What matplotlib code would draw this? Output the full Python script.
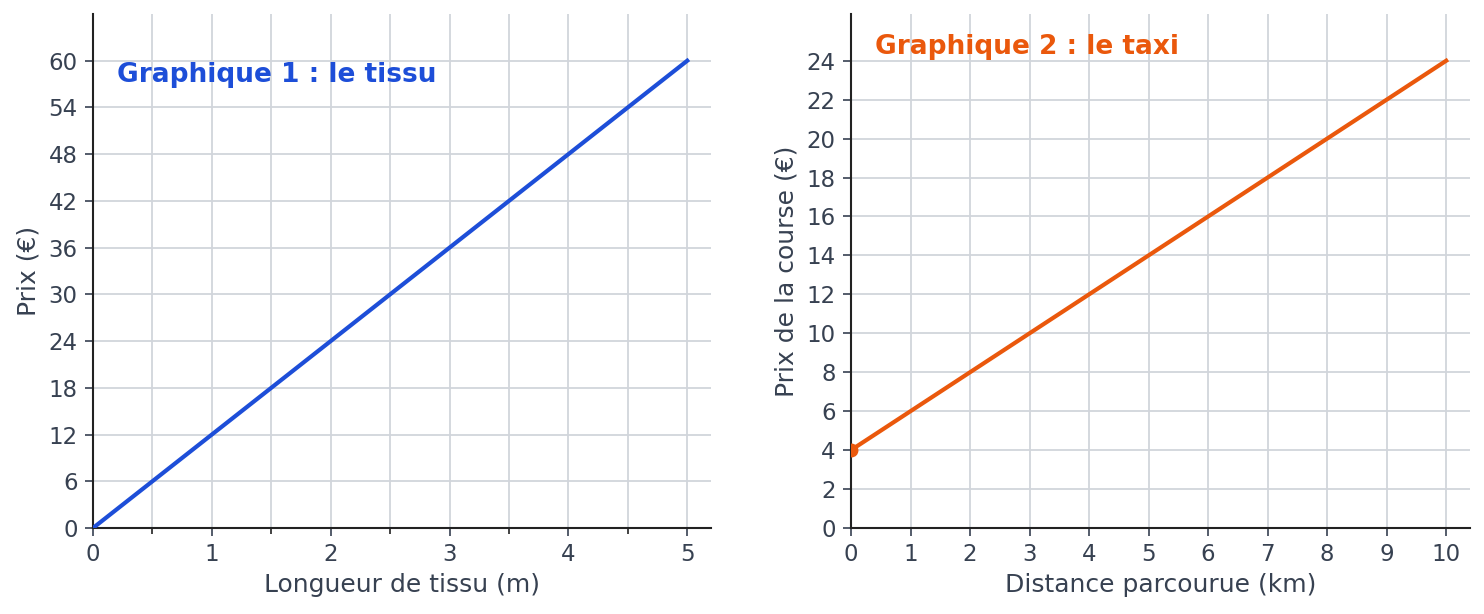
import matplotlib
matplotlib.use("Agg")
import matplotlib.pyplot as plt
from matplotlib.ticker import MultipleLocator, FixedLocator

# Graphique 1 : le tissu
tissu_x = [0, 5]
tissu_y = [0, 60]
tissu_yticks = [0, 6, 12, 18, 24, 30, 36, 42, 48, 54, 60]

# Graphique 2 : le taxi
taxi_x = [0, 10]
taxi_y = [4, 24]
taxi_yticks = [0, 2, 4, 6, 8, 10, 12, 14, 16, 18, 20, 22, 24]

TEXT = "#374151"
GRID = "#d1d5db"
BLUE = "#1d4ed8"
ORANGE = "#ea580c"

plt.rcParams["font.family"] = ["DejaVu Sans"]

fig = plt.figure(figsize=(14.84, 6.14), dpi=100)
ax1 = fig.add_axes([93 / 1484, 1 - 528 / 614, (711 - 93) / 1484, (528 - 14) / 614])
ax2 = fig.add_axes([851 / 1484, 1 - 528 / 614, (1470 - 851) / 1484, (528 - 14) / 614])


def style(ax):
    for s in ("top", "right"):
        ax.spines[s].set_visible(False)
    for s in ("left", "bottom"):
        ax.spines[s].set_color("#222222")
        ax.spines[s].set_linewidth(1.5)
    ax.tick_params(labelsize=16.5, colors=TEXT, length=6, width=1.2, pad=5)
    ax.tick_params(which="minor", length=4, width=1.2, colors="#222222")
    ax.grid(True, which="both", color=GRID, linewidth=1.3)
    ax.set_axisbelow(True)


# left chart
ax1.plot(tissu_x, tissu_y, color=BLUE, linewidth=3, zorder=3)
ax1.set_xlim(0, 5.2)
ax1.set_ylim(0, 66)
ax1.xaxis.set_major_locator(MultipleLocator(1))
ax1.xaxis.set_minor_locator(MultipleLocator(0.5))
ax1.yaxis.set_major_locator(FixedLocator(tissu_yticks))
style(ax1)
ax1.set_xlabel("Longueur de tissu (m)", fontsize=18, color=TEXT, labelpad=5)
ax1.set_ylabel("Prix (€)", fontsize=18, color=TEXT, labelpad=6)
ax1.text(0.2, 57.3, "Graphique 1 : le tissu", fontsize=19, fontweight="bold",
         color=BLUE, va="baseline", ha="left")

# right chart
ax2.plot(taxi_x, taxi_y, color=ORANGE, linewidth=3, zorder=3)
ax2.plot(taxi_x[0], taxi_y[0], "o", color=ORANGE, markersize=9, zorder=4)
ax2.set_xlim(0, 10.4)
ax2.set_ylim(0, 26.4)
ax2.xaxis.set_major_locator(MultipleLocator(1))
ax2.yaxis.set_major_locator(FixedLocator(taxi_yticks))
style(ax2)
ax2.set_xlabel("Distance parcourue (km)", fontsize=18, color=TEXT, labelpad=5)
ax2.set_ylabel("Prix de la course (€)", fontsize=18, color=TEXT, labelpad=6)
ax2.text(0.4, 24.36, "Graphique 2 : le taxi", fontsize=19, fontweight="bold",
         color=ORANGE, va="baseline", ha="left")

fig.savefig("out.png", dpi=100)
